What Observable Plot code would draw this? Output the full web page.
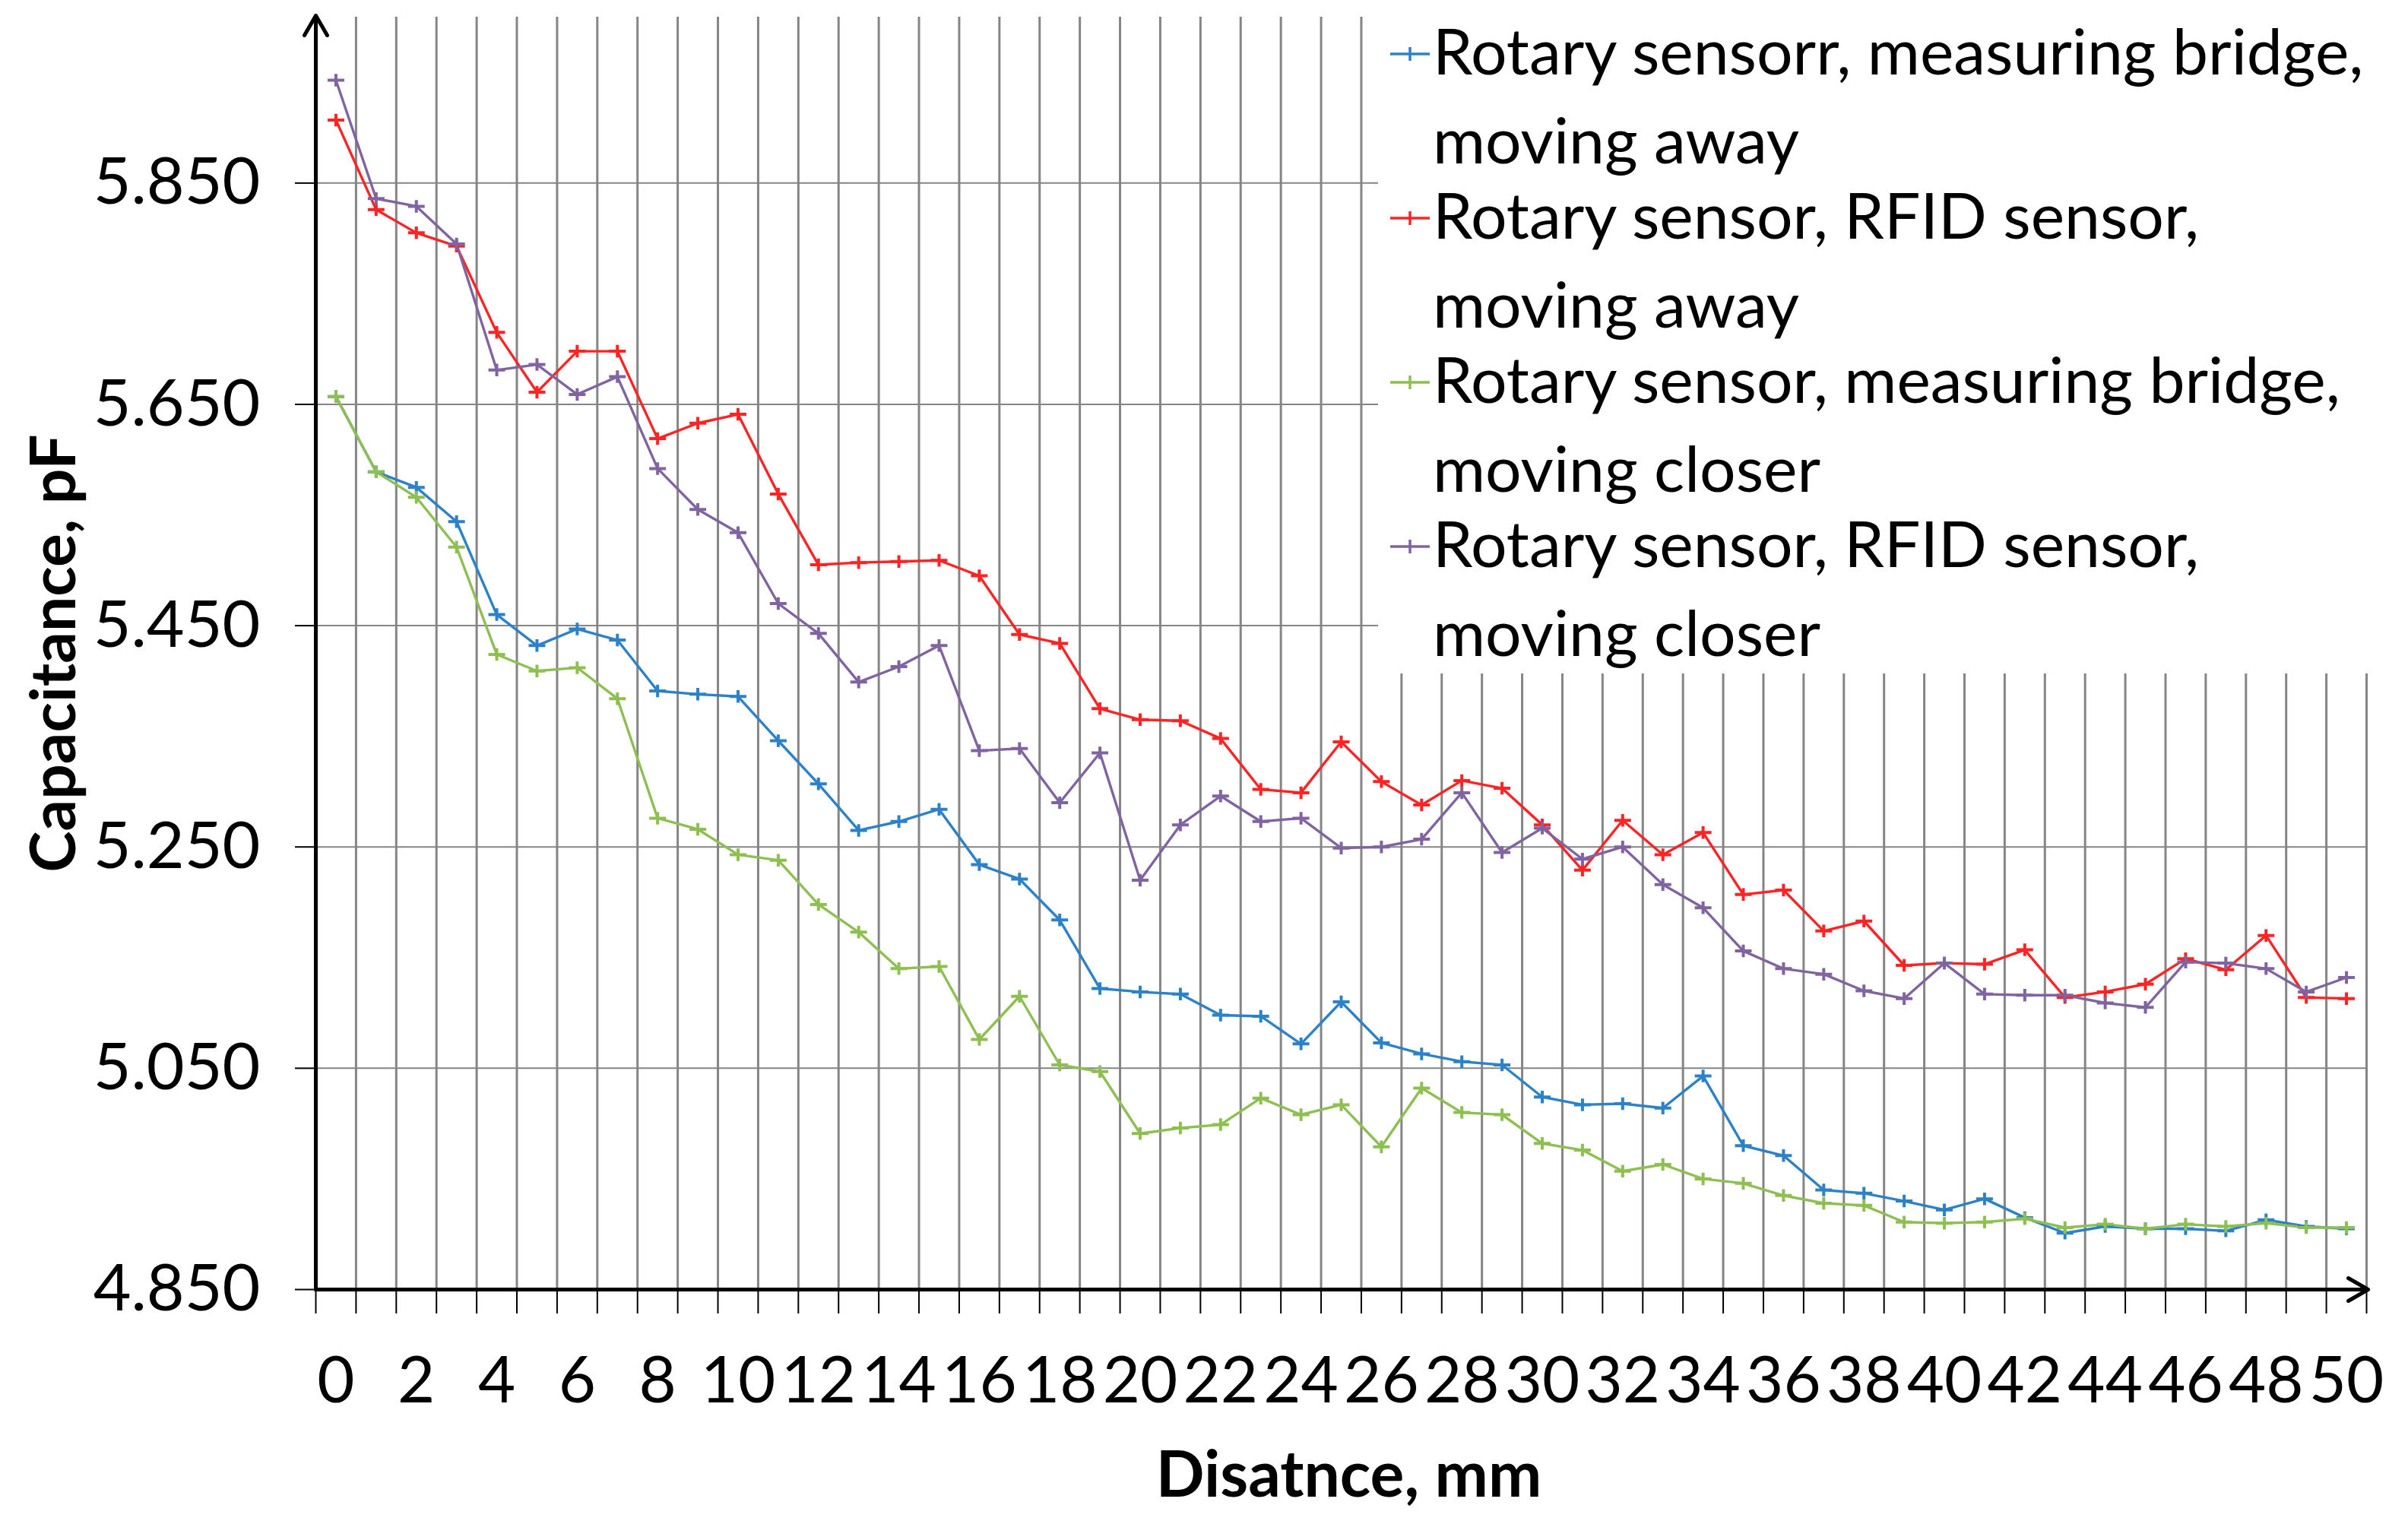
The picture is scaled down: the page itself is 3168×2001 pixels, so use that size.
<!DOCTYPE html>
<html>
<head>
<meta charset="utf-8">
<script src="https://cdn.jsdelivr.net/npm/d3@7"></script>
<script src="https://cdn.jsdelivr.net/npm/@observablehq/plot@0.6"></script>
<style>
  html, body { margin: 0; padding: 0; background: #fff; }
  #wrap { position: relative; width: 3168px; height: 2001px; overflow: hidden; font-family: Lato, "Open Sans", sans-serif; }
  #legend { position: absolute; left: 1813px; top: 0px; width: 1355px; height: 886px; background: #fff; }
  .lline { position: absolute; left: 72px; font-size: 84px; line-height: 116px; white-space: nowrap; color: #000; }
  .lmark { position: absolute; left: 14px; }
</style>
</head>
<body>
<div id="wrap"></div>
<script>
// ---- data ----
const distance = [0,1,2,3,4,5,6,7,8,9,10,11,12,13,14,15,16,17,18,19,20,21,22,23,24,25,26,27,28,29,30,31,32,33,34,35,36,37,38,39,40,41,42,43,44,45,46,47,48,49,50];
const xTickLabels = [0,2,4,6,8,10,12,14,16,18,20,22,24,26,28,30,32,34,36,38,40,42,44,46,48,50];
const yTicks = [4.85, 5.05, 5.25, 5.45, 5.65, 5.85];

const seriesNames = [
  "Rotary sensorr, measuring bridge, moving away",
  "Rotary sensor, RFID sensor, moving away",
  "Rotary sensor, measuring bridge, moving closer",
  "Rotary sensor, RFID sensor, moving closer"
];
const legendLines = [
  ["Rotary sensorr, measuring bridge,", "moving away"],
  ["Rotary sensor, RFID sensor,", "moving away"],
  ["Rotary sensor, measuring bridge,", "moving closer"],
  ["Rotary sensor, RFID sensor,", "moving closer"]
];
const seriesColors = ["#2b82c9", "#ff2323", "#8dc050", "#8064a2"];

const bridgeAway = [5.657,5.589,5.575,5.544,5.460,5.432,5.447,5.437,5.391,5.388,5.386,5.346,5.307,5.265,5.273,5.284,5.234,5.221,5.184,5.122,5.119,5.117,5.098,5.097,5.072,5.110,5.073,5.063,5.056,5.053,5.024,5.017,5.018,5.014,5.043,4.980,4.971,4.940,4.937,4.930,4.922,4.932,4.915,4.901,4.907,4.905,4.905,4.903,4.913,4.907,4.905];
const rfidAway = [5.907,5.826,5.805,5.793,5.715,5.661,5.698,5.698,5.619,5.633,5.641,5.569,5.505,5.507,5.508,5.509,5.495,5.442,5.434,5.375,5.365,5.364,5.348,5.302,5.299,5.345,5.309,5.288,5.310,5.303,5.270,5.229,5.274,5.243,5.263,5.207,5.211,5.174,5.183,5.143,5.145,5.144,5.157,5.114,5.119,5.126,5.149,5.139,5.170,5.114,5.113];
const bridgeCloser = [5.657,5.589,5.566,5.521,5.424,5.409,5.412,5.384,5.276,5.266,5.243,5.238,5.198,5.173,5.140,5.142,5.076,5.115,5.053,5.047,4.991,4.996,4.999,5.023,5.008,5.017,4.979,5.032,5.010,5.008,4.982,4.976,4.957,4.963,4.950,4.946,4.935,4.928,4.926,4.911,4.910,4.911,4.914,4.906,4.909,4.905,4.909,4.907,4.910,4.906,4.906];
const rfidCloser = [5.943,5.836,5.829,5.795,5.681,5.686,5.659,5.675,5.592,5.555,5.534,5.470,5.443,5.399,5.413,5.432,5.337,5.339,5.290,5.335,5.220,5.270,5.296,5.273,5.276,5.249,5.250,5.257,5.299,5.245,5.267,5.239,5.250,5.216,5.195,5.156,5.140,5.135,5.120,5.113,5.145,5.117,5.116,5.116,5.109,5.105,5.146,5.145,5.140,5.119,5.132];

const xTitle = "Disatnce, mm";
const yTitle = "Capacitance, pF";

// ---- build table ----
const allSeries = [bridgeAway, rfidAway, bridgeCloser, rfidCloser];
const table = [];
allSeries.forEach((vals, si) => {
  vals.forEach((v, i) => table.push({series: seriesNames[si], distance: distance[i], value: v}));
});
const boundaries = [distance[0] - 0.5, ...distance.map(d => d + 0.5)];
const xMin = boundaries[0], xMax = boundaries[boundaries.length - 1];
const yMin = yTicks[0];

const plus = {
  draw(ctx, size) {
    const r = Math.sqrt(size / Math.PI);
    ctx.moveTo(-r, 0); ctx.lineTo(r, 0);
    ctx.moveTo(0, -r * 0.75); ctx.lineTo(0, r * 0.75);
  }
};

const chart = Plot.plot({
  width: 3168,
  height: 2001,
  marginLeft: 415,
  marginRight: 55,
  marginTop: 22,
  marginBottom: 305,
  style: {fontFamily: "Lato, 'Open Sans', sans-serif", background: "#fff", overflow: "visible"},
  x: {domain: [xMin, xMax], axis: null},
  y: {domain: [yMin, 6.0], axis: null},
  color: {domain: seriesNames, range: seriesColors},
  marks: [
    Plot.ruleY(yTicks.slice(1), {x1: xMin, x2: xMax, stroke: "#858585", strokeWidth: 2}),
    Plot.ruleX(boundaries.slice(1), {stroke: "#858585", strokeWidth: 3}),
    Plot.axisY({ticks: yTicks, tickSize: 27, tickPadding: 46, tickFormat: d3.format(".3f"), fontSize: 86, stroke: "#000", strokeWidth: 2, color: "#000"}),
    Plot.axisX({ticks: boundaries, tickSize: 32, tickFormat: () => "", stroke: "#000", strokeWidth: 2}),
    Plot.axisX({ticks: xTickLabels, tickSize: 0, tickPadding: 88, fontSize: 85, color: "#000"}),
    Plot.arrow([{x: xMin}], {x1: "x", x2: "x", y1: yMin, y2: 6.0, stroke: "#000", strokeWidth: 5, headLength: 9, insetEnd: -2}),
    Plot.arrow([{y: yMin}], {x1: xMin, x2: xMax, y1: "y", y2: "y", stroke: "#000", strokeWidth: 5, headLength: 9, insetEnd: -2}),
    Plot.line(table, {x: "distance", y: "value", z: "series", stroke: "series", strokeWidth: 3.4}),
    Plot.dot(table, {x: "distance", y: "value", stroke: "series", symbol: plus, r: 11, fill: "none", strokeWidth: 4}),
    Plot.text([yTitle], {frameAnchor: "left", rotate: -90, dx: -343, fontSize: 82, fontWeight: "bold", fill: "#000", textAnchor: "middle"}),
    Plot.text([xTitle], {frameAnchor: "bottom", dx: 10, dy: 272, fontSize: 84, fontWeight: "bold", fill: "#000", textAnchor: "middle"})
  ]
});

const wrap = document.getElementById("wrap");
wrap.appendChild(chart);

// ---- legend ----
const legend = document.createElement("div");
legend.id = "legend";
const entryStep = 216;
const firstBaseline = 99;
const lineGap = 116.6;
legendLines.forEach((lines, i) => {
  const base = firstBaseline + i * entryStep;
  lines.forEach((t, j) => {
    const d = document.createElement("div");
    d.className = "lline";
    d.textContent = t;
    d.style.top = (base + j * lineGap - 91) + "px";
    legend.appendChild(d);
  });
  const ns = "http://www.w3.org/2000/svg";
  const svg = document.createElementNS(ns, "svg");
  svg.setAttribute("width", 56); svg.setAttribute("height", 30);
  svg.setAttribute("class", "lmark");
  svg.style.top = (base - 28 - 15) + "px";
  const path = document.createElementNS(ns, "path");
  path.setAttribute("d", "M2,15H54M28,6V24");
  path.setAttribute("stroke", seriesColors[i]);
  path.setAttribute("stroke-width", "3.5");
  path.setAttribute("fill", "none");
  svg.appendChild(path);
  legend.appendChild(svg);
});
wrap.appendChild(legend);
</script>
</body>
</html>
